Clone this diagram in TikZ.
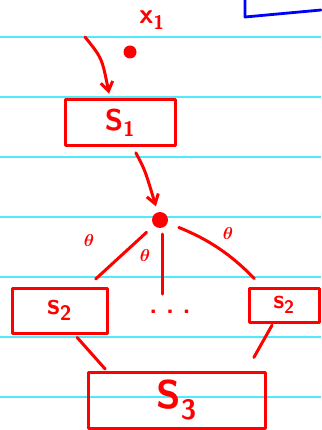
\documentclass[tikz,border=0pt]{standalone}
\usepackage{amsmath,amssymb,bm}
\usetikzlibrary{arrows.meta}
\definecolor{ruled}{RGB}{80,235,250}
\begin{document}
\begin{tikzpicture}[x=1pt,y=-1pt,
  ink/.style={draw=red, line width=3pt, line cap=round, line join=round},
  box/.style={ink, rectangle, inner sep=0pt, text=red},
  dot/.style={circle, fill=red, inner sep=0pt},
  lbl/.style={text=red, inner sep=0pt},
  big/.style={font=\fontsize{#1}{#1}\selectfont\sffamily\bfseries},
  barb/.style={-{Straight Barb[length=9pt,width=12pt,line width=3pt]}}
]
\useasboundingbox (0,0) rectangle (321,430);
\fill[white] (0,0) rectangle (321,430);
\foreach \y in {37,97,157,217,277,337,397}
  \draw[ruled, line width=1.8pt] (0,\y) -- (321,\y);
\draw[blue, line width=2.8pt, line cap=round, line join=round] (245,0) -- (245,17) -- (321,10);

\node[lbl, big=28] (x1) at (152,20) {x\textsubscript{1}};
\node[dot, minimum size=13pt] (d1) at (130,52) {};
\node[box, minimum width=110pt, minimum height=46pt, big=30] (s1) at (120,123) {S\textsubscript{1}};
\node[dot, minimum size=16pt] (d2) at (160,220) {};

\node[box, minimum width=95pt, minimum height=45pt, big=30] (s2l) at (59.5,310.5) {s\textsubscript{2}};
\node[lbl, big=26] (dots) at (170,312) {.\,\,.\,\,.};
\node[box, minimum width=70pt, minimum height=34pt, big=26] (s2r) at (284,305) {s\textsubscript{2}};
\node[box, minimum width=177pt, minimum height=56pt, big=40] (s3) at (176.5,400) {S\textsubscript{3}};

\coordinate (a0) at (85,37);
\draw[ink, barb, shorten >=5pt] (a0) .. controls (102,58) .. ([xshift=-10pt]s1.north);
\draw[ink, barb, shorten <=6pt, shorten >=6pt] ([xshift=13pt]s1.south) .. controls (145,170) .. (d2);

\draw[ink, shorten <=10pt, shorten >=11pt] (d2) -- ([xshift=28pt]s2l.north);
\draw[ink, shorten <=14pt, shorten >=16pt] ([xshift=2pt]d2.center) -- ([xshift=-8pt]dots.north);
\draw[ink, shorten <=12pt, shorten >=11pt] (d2) to[bend left=12] ([xshift=-22pt]s2r.north);

\node[lbl, big=18] (t1) at (89,240) {$\bm{\theta}$};
\node[lbl, big=18] (t2) at (145,255) {$\bm{\theta}$};
\node[lbl, big=18] (t3) at (228,233) {$\bm{\theta}$};

\draw[ink, shorten <=4pt, shorten >=2pt] ([xshift=15pt]s2l.south) -- ([xshift=-70pt]s3.north);
\draw[ink, shorten <=2pt, shorten >=15pt] ([xshift=-11pt]s2r.south) -- ([xshift=70pt]s3.north);
\end{tikzpicture}
\end{document}
